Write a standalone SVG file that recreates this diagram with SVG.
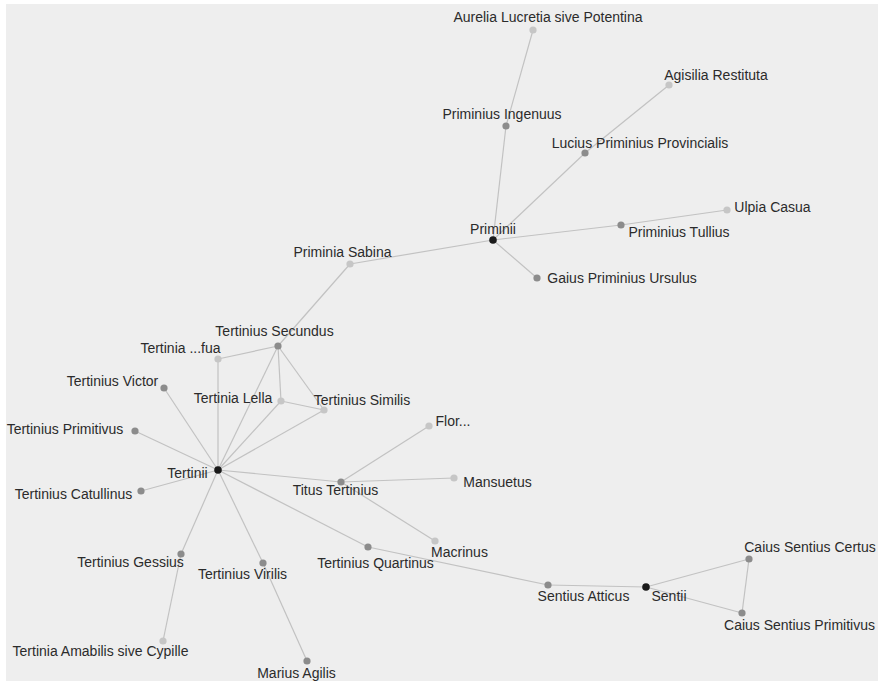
<svg xmlns="http://www.w3.org/2000/svg" width="878" height="681" viewBox="0 0 878 681">
<style>
.bg{fill:#eeeeee}
.e{stroke:#c2c2c2;stroke-width:1.2;fill:none}
.h{fill:#1a1a1a}
.d{fill:#8c8c8c}
.l{fill:#c6c6c6}
text{font-family:"Liberation Sans",Arial,sans-serif;font-size:14px;fill:#2b2b2b;text-anchor:middle}
</style>
<rect class="bg" x="6" y="4" width="872" height="677"/>
<g id="edges">
<line class="e" x1="533" y1="30" x2="506" y2="126"/>
<line class="e" x1="506" y1="126" x2="493" y2="240"/>
<line class="e" x1="669" y1="85" x2="585" y2="153"/>
<line class="e" x1="585" y1="153" x2="493" y2="240"/>
<line class="e" x1="493" y1="240" x2="621" y2="225"/>
<line class="e" x1="621" y1="225" x2="727" y2="210"/>
<line class="e" x1="493" y1="240" x2="537" y2="278"/>
<line class="e" x1="493" y1="240" x2="350" y2="264"/>
<line class="e" x1="350" y1="264" x2="278" y2="346"/>
<line class="e" x1="278" y1="346" x2="218" y2="359"/>
<line class="e" x1="278" y1="346" x2="281" y2="401"/>
<line class="e" x1="278" y1="346" x2="324" y2="410"/>
<line class="e" x1="278" y1="346" x2="218" y2="470"/>
<line class="e" x1="281" y1="401" x2="324" y2="410"/>
<line class="e" x1="281" y1="401" x2="218" y2="470"/>
<line class="e" x1="324" y1="410" x2="218" y2="470"/>
<line class="e" x1="218" y1="359" x2="218" y2="470"/>
<line class="e" x1="164" y1="388" x2="218" y2="470"/>
<line class="e" x1="135" y1="431" x2="218" y2="470"/>
<line class="e" x1="141" y1="491" x2="218" y2="470"/>
<line class="e" x1="218" y1="470" x2="341" y2="482"/>
<line class="e" x1="341" y1="482" x2="429" y2="426"/>
<line class="e" x1="341" y1="482" x2="454" y2="478"/>
<line class="e" x1="341" y1="482" x2="435" y2="541"/>
<line class="e" x1="218" y1="470" x2="368" y2="547"/>
<line class="e" x1="368" y1="547" x2="548" y2="585"/>
<line class="e" x1="548" y1="585" x2="646" y2="587"/>
<line class="e" x1="646" y1="587" x2="749" y2="559"/>
<line class="e" x1="646" y1="587" x2="742" y2="613"/>
<line class="e" x1="749" y1="559" x2="742" y2="613"/>
<line class="e" x1="218" y1="470" x2="181" y2="554"/>
<line class="e" x1="181" y1="554" x2="163" y2="641"/>
<line class="e" x1="218" y1="470" x2="263" y2="563"/>
<line class="e" x1="263" y1="563" x2="307" y2="661"/>
</g>
<g id="n-aurelia"><circle class="l" cx="533" cy="30" r="3.6"/><text x="548" y="22">Aurelia Lucretia sive Potentina</text></g>
<g id="n-ingenuus"><circle class="d" cx="506" cy="126" r="3.6"/><text x="502" y="119">Priminius Ingenuus</text></g>
<g id="n-agisilia"><circle class="l" cx="669" cy="85" r="3.6"/><text x="716" y="80">Agisilia Restituta</text></g>
<g id="n-lucius"><circle class="d" cx="585" cy="153" r="3.6"/><text x="640" y="148">Lucius Priminius Provincialis</text></g>
<g id="n-priminii"><circle class="h" cx="493" cy="240" r="3.8"/><text x="493" y="234">Priminii</text></g>
<g id="n-sabina"><circle class="l" cx="350" cy="264" r="3.6"/><text x="342.5" y="257">Priminia Sabina</text></g>
<g id="n-ursulus"><circle class="d" cx="537" cy="278" r="3.6"/><text x="622" y="283">Gaius Priminius Ursulus</text></g>
<g id="n-tullius"><circle class="d" cx="621" cy="225" r="3.6"/><text x="679" y="237">Priminius Tullius</text></g>
<g id="n-ulpia"><circle class="l" cx="727" cy="210" r="3.6"/><text x="772.5" y="212">Ulpia Casua</text></g>
<g id="n-secundus"><circle class="d" cx="278" cy="346" r="3.6"/><text x="274.5" y="336">Tertinius Secundus</text></g>
<g id="n-fua"><circle class="l" cx="218" cy="359" r="3.6"/><text x="180.5" y="353">Tertinia ...fua</text></g>
<g id="n-victor"><circle class="d" cx="164" cy="388" r="3.6"/><text x="112.5" y="386">Tertinius Victor</text></g>
<g id="n-lella"><circle class="l" cx="281" cy="401" r="3.6"/><text x="233" y="403">Tertinia Lella</text></g>
<g id="n-similis"><circle class="l" cx="324" cy="410" r="3.6"/><text x="362" y="405">Tertinius Similis</text></g>
<g id="n-primitivus"><circle class="d" cx="135" cy="431" r="3.6"/><text x="65" y="434">Tertinius Primitivus</text></g>
<g id="n-tertinii"><circle class="h" cx="218" cy="470" r="3.8"/><text x="187.5" y="478">Tertinii</text></g>
<g id="n-catullinus"><circle class="d" cx="141" cy="491" r="3.6"/><text x="73.5" y="499">Tertinius Catullinus</text></g>
<g id="n-titus"><circle class="d" cx="341" cy="482" r="3.6"/><text x="335.5" y="495">Titus Tertinius</text></g>
<g id="n-flor"><circle class="l" cx="429" cy="426" r="3.6"/><text x="453" y="426">Flor...</text></g>
<g id="n-mansuetus"><circle class="l" cx="454" cy="478" r="3.6"/><text x="497.5" y="487">Mansuetus</text></g>
<g id="n-macrinus"><circle class="l" cx="435" cy="541" r="3.6"/><text x="459.5" y="557">Macrinus</text></g>
<g id="n-quartinus"><circle class="d" cx="368" cy="547" r="3.6"/><text x="375.5" y="568">Tertinius Quartinus</text></g>
<g id="n-atticus"><circle class="d" cx="548" cy="585" r="3.6"/><text x="583.5" y="601">Sentius Atticus</text></g>
<g id="n-sentii"><circle class="h" cx="646" cy="587" r="3.8"/><text x="669" y="601">Sentii</text></g>
<g id="n-certus"><circle class="d" cx="749" cy="559" r="3.6"/><text x="810" y="552">Caius Sentius Certus</text></g>
<g id="n-cprimitivus"><circle class="d" cx="742" cy="613" r="3.6"/><text x="799.5" y="630">Caius Sentius Primitivus</text></g>
<g id="n-gessius"><circle class="d" cx="181" cy="554" r="3.6"/><text x="130.5" y="567">Tertinius Gessius</text></g>
<g id="n-virilis"><circle class="d" cx="263" cy="563" r="3.6"/><text x="242.5" y="579">Tertinius Virilis</text></g>
<g id="n-amabilis"><circle class="l" cx="163" cy="641" r="3.6"/><text x="100.5" y="656">Tertinia Amabilis sive Cypille</text></g>
<g id="n-marius"><circle class="d" cx="307" cy="661" r="3.6"/><text x="296.5" y="678">Marius Agilis</text></g>
</svg>
